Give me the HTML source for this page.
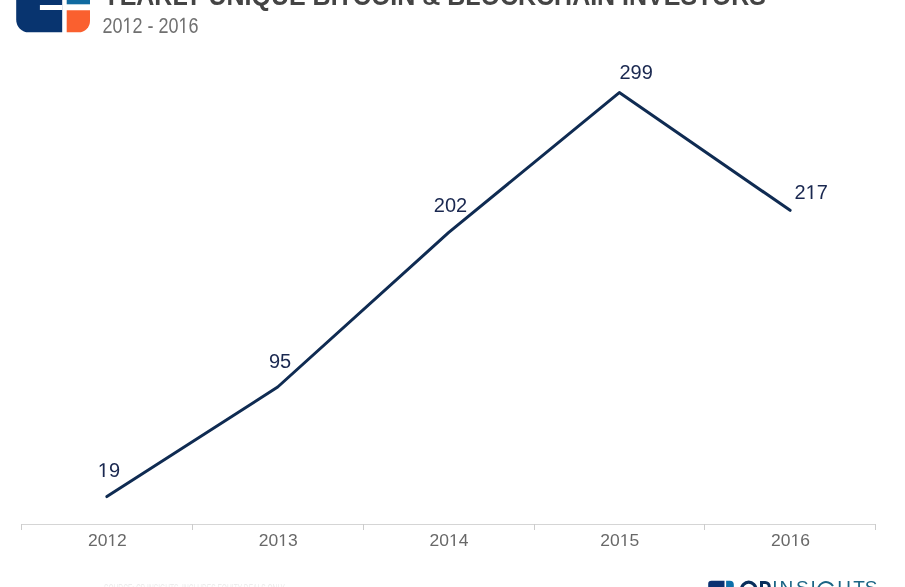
<!DOCTYPE html>
<html>
<head>
<meta charset="utf-8">
<style>
html,body{margin:0;padding:0;background:#fff;}
body{width:905px;height:587px;overflow:hidden;position:relative;font-family:"Liberation Sans",sans-serif;}
svg{position:absolute;left:0;top:0;will-change:transform;font-family:"Liberation Sans",sans-serif;}
</style>
</head>
<body>
<svg width="905" height="587" viewBox="0 0 905 587">
<!-- top-left logo -->
<path d="M16.2 -2 H62.2 V32.3 H28.7 A12.5 12.5 0 0 1 16.2 19.8 Z" fill="#08346f"/>
<rect x="66.7" y="-2" width="23.3" height="6.3" fill="#106aa0"/>
<path d="M66.7 10.3 H90 V20.9 A11.4 11.4 0 0 1 78.6 32.3 H66.7 Z" fill="#fa602f"/>
<rect x="39.9" y="5" width="22.5" height="5" fill="#fff"/>
<!-- title -->
<text x="103" y="5" font-weight="bold" font-size="28" fill="#444" textLength="663" lengthAdjust="spacingAndGlyphs">YEARLY UNIQUE BITCOIN &amp; BLOCKCHAIN INVESTORS</text>
<!-- subtitle -->
<g transform="translate(102.50,33) scale(0.8175,1)" fill="#707070"><text x="0.00 12.24 24.47 36.71 48.94 55.05 62.38 68.49 80.73 92.96 105.20" y="0" font-size="22">20 2 - 20 6</text><path d="M515 0L515 1237L197 1010L197 1180L530 1409L696 1409L696 0Z" transform="translate(24.47,0) scale(0.010742,-0.010742)"/><path d="M515 0L515 1237L197 1010L197 1180L530 1409L696 1409L696 0Z" transform="translate(92.96,0) scale(0.010742,-0.010742)"/></g>
<!-- axis -->
<line x1="21" y1="524.5" x2="876" y2="524.5" stroke="#d5d5d5" stroke-width="1"/>
<g stroke="#ccc" stroke-width="1">
<line x1="21.5" y1="524" x2="21.5" y2="530"/><line x1="192.5" y1="524" x2="192.5" y2="530"/><line x1="363.5" y1="524" x2="363.5" y2="530"/><line x1="534.5" y1="524" x2="534.5" y2="530"/><line x1="704.5" y1="524" x2="704.5" y2="530"/><line x1="875.5" y1="524" x2="875.5" y2="530"/>
</g>
<!-- x labels -->
<g transform="translate(87.92,546) scale(1.03,1)" fill="#686868"><text x="0.00 9.45 18.91 28.36" y="0" font-size="17">20 2</text><path d="M515 0L515 1237L197 1010L197 1180L530 1409L696 1409L696 0Z" transform="translate(18.91,0) scale(0.008301,-0.008301)"/></g><g transform="translate(258.72,546) scale(1.03,1)" fill="#686868"><text x="0.00 9.45 18.91 28.36" y="0" font-size="17">20 3</text><path d="M515 0L515 1237L197 1010L197 1180L530 1409L696 1409L696 0Z" transform="translate(18.91,0) scale(0.008301,-0.008301)"/></g><g transform="translate(429.52,546) scale(1.03,1)" fill="#686868"><text x="0.00 9.45 18.91 28.36" y="0" font-size="17">20 4</text><path d="M515 0L515 1237L197 1010L197 1180L530 1409L696 1409L696 0Z" transform="translate(18.91,0) scale(0.008301,-0.008301)"/></g><g transform="translate(600.32,546) scale(1.03,1)" fill="#686868"><text x="0.00 9.45 18.91 28.36" y="0" font-size="17">20 5</text><path d="M515 0L515 1237L197 1010L197 1180L530 1409L696 1409L696 0Z" transform="translate(18.91,0) scale(0.008301,-0.008301)"/></g><g transform="translate(771.12,546) scale(1.03,1)" fill="#686868"><text x="0.00 9.45 18.91 28.36" y="0" font-size="17">20 6</text><path d="M515 0L515 1237L197 1010L197 1180L530 1409L696 1409L696 0Z" transform="translate(18.91,0) scale(0.008301,-0.008301)"/></g>
<!-- line -->
<polyline points="106.9,496.6 277.7,387 448.5,232.7 619.3,92.6 790.1,210.3" fill="none" stroke="#0f2b52" stroke-width="3" stroke-linejoin="round" stroke-linecap="round"/>
<!-- data labels -->
<g transform="translate(97.78,477) scale(1.0,1)" fill="#1a2850"><text x="0.00 11.12" y="0" font-size="20"> 9</text><path d="M515 0L515 1237L197 1010L197 1180L530 1409L696 1409L696 0Z" transform="translate(0.00,0) scale(0.009766,-0.009766)"/></g><g transform="translate(268.88,368) scale(1.0,1)" fill="#1a2850"><text x="0.00 11.12" y="0" font-size="20">95</text></g><g transform="translate(433.82,212) scale(1.0,1)" fill="#1a2850"><text x="0.00 11.12 22.25" y="0" font-size="20">202</text></g><g transform="translate(619.42,79) scale(1.0,1)" fill="#1a2850"><text x="0.00 11.12 22.25" y="0" font-size="20">299</text></g><g transform="translate(794.52,199) scale(1.0,1)" fill="#1a2850"><text x="0.00 11.12 22.25" y="0" font-size="20">2 7</text><path d="M515 0L515 1237L197 1010L197 1180L530 1409L696 1409L696 0Z" transform="translate(11.12,0) scale(0.009766,-0.009766)"/></g>
<!-- bottom faint source text -->
<text x="104" y="592.8" font-size="12" fill="#ececec" textLength="181" lengthAdjust="spacingAndGlyphs">SOURCE: CB INSIGHTS, INCLUDES EQUITY DEALS ONLY</text>
<!-- CB Insights logo -->
<path d="M708.2 590 V584 A3.2 3.2 0 0 1 711.4 580.8 H724.5 V590 Z" fill="#0b3272"/>
<path d="M726.1 590 V580.8 H729.8 A4 4 0 0 1 733.8 584.8 V590 Z" fill="#0d70aa"/>
<circle cx="748.7" cy="589.4" r="7.2" fill="none" stroke="#0a2f5c" stroke-width="3.2"/>
<rect x="760" y="581" width="3" height="10" fill="#0a2f5c"/>
<path d="M761.5 582.5 H765.2 A4 4 0 0 1 769.2 586.5 V590" fill="none" stroke="#0a2f5c" stroke-width="3"/>
<g fill="#1b6585" font-size="19">
<text y="594" x="772.2 779.6 795.9 810.5">INSI</text>
<text y="594" x="837.3 853.3 864.8">HTS</text>
</g>
<path d="M818.4 592.9 A8.1 8.1 0 0 1 833 586.05" fill="none" stroke="#1b6585" stroke-width="2"/>
</svg>
</body>
</html>
